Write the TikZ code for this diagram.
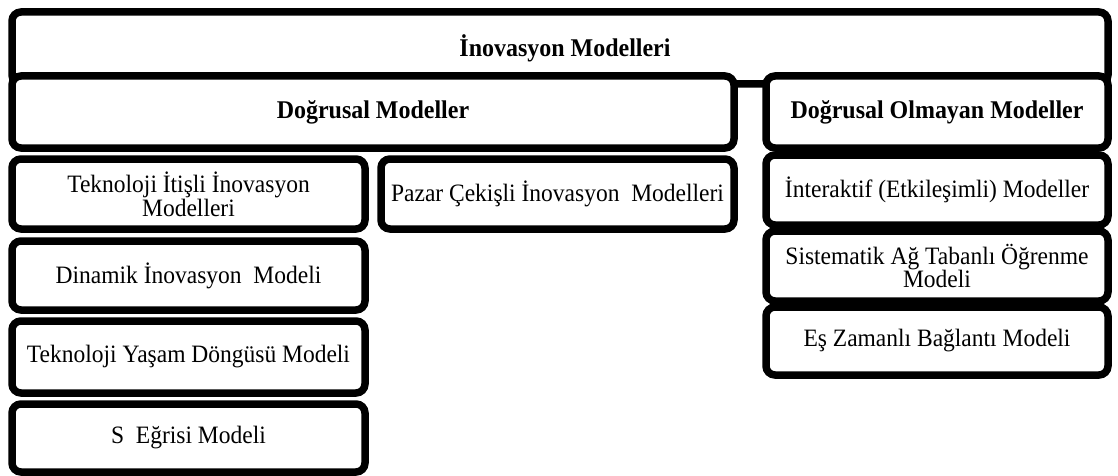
\documentclass[tikz,border=0pt]{standalone}
\usepackage{fontspec}
\setmainfont{Liberation Serif}[FakeStretch=0.94]
\usetikzlibrary{positioning}

\tikzset{
    modelbox/.style={draw=black, line width=7.5pt, rounded corners=9pt, fill=white,
        align=center, inner sep=0pt, font=\fontsize{25}{20.5}\selectfont},
    headbox/.style={modelbox, font=\fontsize{25.5}{20.5}\selectfont\bfseries}
}

\begin{document}
\begin{tikzpicture}[x=1pt, y=-1pt]
    \useasboundingbox (0,0) rectangle (1118,476);
    % Top level
    \node[headbox, minimum width=1096pt, minimum height=72pt] (inovasyon) at (560,48) {\hspace*{10pt}İnovasyon Modelleri};
    % Second level
    \node[headbox, minimum width=722pt, minimum height=72pt] (dogrusal) at (373,112) {Doğrusal Modeller};
    \node[headbox, minimum width=342pt, minimum height=72pt] (dogrusalOlmayan) at (937,112) {Doğrusal Olmayan Modeller};
    % Linear models
    \node[modelbox, minimum width=353pt, minimum height=70pt] (teknoItisli) at (188.5,194) {Teknoloji İtişli İnovasyon\\Modelleri};
    \node[modelbox, minimum width=353pt, minimum height=69pt] (dinamik) at (188.5,275.5) {Dinamik İnovasyon\ \ Modeli};
    \node[modelbox, minimum width=353pt, minimum height=72pt] (yasamDongusu) at (188.5,357) {Teknoloji Yaşam Döngüsü Modeli};
    \node[modelbox, minimum width=353pt, minimum height=68pt] (sEgrisi) at (188.5,438) {S\ \ Eğrisi Modeli};
    \node[modelbox, minimum width=353pt, minimum height=70pt] (pazarCekisli) at (557.5,194) {Pazar Çekişli İnovasyon\ \ Modelleri};
    % Non-linear models
    \node[modelbox, minimum width=342pt, minimum height=70pt] (interaktif) at (937,190) {İnteraktif (Etkileşimli) Modeller};
    \node[modelbox, minimum width=342pt, minimum height=70pt] (sistematik) at (937,266) {Sistematik Ağ Tabanlı Öğrenme\\Modeli};
    \node[modelbox, minimum width=342pt, minimum height=68pt] (esZamanli) at (937,341) {Eş Zamanlı Bağlantı Modeli};
\end{tikzpicture}
\end{document}
